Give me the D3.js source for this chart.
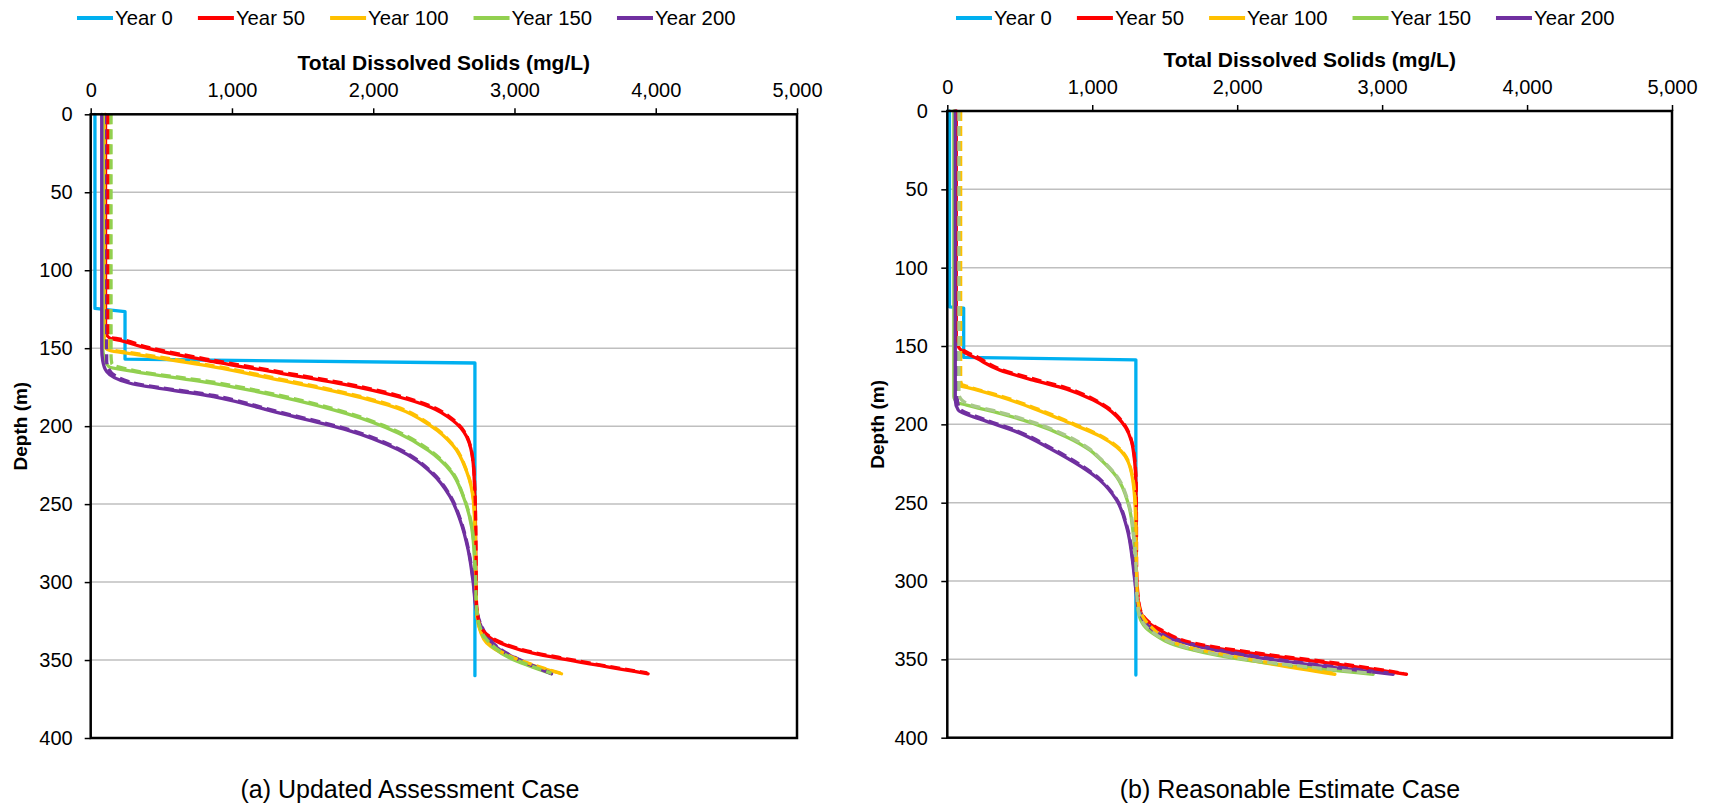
<!DOCTYPE html>
<html>
<head>
<meta charset="utf-8">
<script src="https://cdnjs.cloudflare.com/ajax/libs/d3/7.8.5/d3.min.js"></script>
<style>
  body { margin: 0; background: #fff; }
  svg text { font-family: "Liberation Sans", Arial, sans-serif; fill: #000; }
</style>
</head>
<body>
<svg id="chart" width="1718" height="807"></svg>
<script>
// Legend / series
const years = ["Year 0", "Year 50", "Year 100", "Year 150", "Year 200"];
const colors = ["#00B0F0", "#FF0000", "#FFC000", "#92D050", "#7030A0"];
const xTicks = [0, 1000, 2000, 3000, 4000, 5000];
const yTicks = [0, 50, 100, 150, 200, 250, 300, 350, 400];
const xTitle = "Total Dissolved Solids (mg/L)";
const yTitle = "Depth (m)";

// (a) Updated Assessment Case — [TDS mg/L, depth m]
const upd0 = [[30,0],[30,124.5],[243,126.5],[243,157],[2720,159.5],[2720,360]];
const upd50 = [[105,0],[105,137],[112,141],[135,143.5],[208,145],[396,150],[868,158.6],[1339,166],[1812,173.6],[2170,181],[2410,188],[2566,196.5],[2661,206.7],[2708,224],[2720,247],[2726,280],[2728,310],[2740,322],[2755,328.5],[2897,339],[3130,345.6],[3369,349.8],[3946,358.8]];
const upd100 = [[96,0],[96,146],[108,150],[135,151.5],[278,153.5],[868,162],[1339,170.5],[1812,179.5],[2170,188.5],[2410,200],[2566,212.5],[2661,229],[2708,247],[2720,268.6],[2724,300],[2735,322],[2760,332],[2802,339],[3014,349.8],[3333,358.8]];
const upd150 = [[85,0],[85,150],[100,157],[130,162],[278,164.5],[868,172.5],[1339,181],[1812,192],[2180,204.5],[2390,215.5],[2550,229],[2637,245],[2696,264.5],[2720,290],[2728,315],[2750,328],[2779,334.8],[2967,348.7],[3262,358.8]];
const upd200 = [[78,0],[78,150],[85,158],[113,165],[278,172.5],[868,181],[1339,191.7],[1812,202.4],[2175,215],[2413,230],[2543,245],[2614,260],[2672,279.4],[2708,300.6],[2730,318],[2755,326.5],[2897,343.4],[3262,358.8]];
const upd50d = [[122,0],[122,139],[140,143],[210,144.2],[400,149.3],[870,157.8],[1340,165.2],[1812,172.8],[2170,180.2],[2410,187.2],[2566,195.8],[2661,206],[2708,223.5],[2722,247],[2728,280],[2730,310],[2740,322],[2757,328],[2900,338.5],[3130,345],[3369,349.2],[3940,358.3]];
const upd100d = [[135,0],[135,149],[150,151],[280,152.8],[870,161.3],[1340,169.8],[1812,178.8],[2170,187.8],[2410,199.3],[2566,212],[2661,228.5],[2710,247],[2722,268],[2726,300],[2737,322],[2762,331.5],[2805,338.5],[3016,349.3],[3330,358.5]];
const upd150d = [[144,0],[144,155],[150,160],[280,163.8],[870,171.8],[1340,180.3],[1812,191.3],[2180,203.8],[2390,214.8],[2550,228.3],[2637,244.5],[2698,264],[2722,290],[2730,315],[2752,327.5],[2782,334.3],[2970,348.2],[3262,358.5]];
const upd200d = [[113,0],[113,158],[125,163],[280,171.8],[870,180.3],[1340,191],[1812,201.7],[2175,214.3],[2413,229.3],[2545,244.5],[2616,259.5],[2674,279],[2710,300.3],[2732,317.5],[2757,326],[2900,343],[3262,358.5]];

// (b) Reasonable Estimate Case
const est0 = [[15,0],[15,125],[113,125.8],[113,157.3],[1301,158.8],[1301,360]];
const est50 = [[62,0],[62,146],[70,149.4],[100,153],[203,157.9],[363,165.4],[593,171.8],[823,177.5],[1007,184.5],[1100,189.5],[1170,195],[1230,202],[1268,210],[1288,220],[1298,230],[1302,242],[1303,260],[1304,291],[1310,305],[1329,318.6],[1467,331.4],[1743,341],[2203,347.4],[2662,352.7],[3168,359.5]];
const est100 = [[50,0],[50,172],[70,175],[134,176.4],[363,182.4],[593,189.8],[823,198.4],[1052,207.5],[1168,214.4],[1260,227],[1294,248.5],[1301,270],[1303,291],[1310,310],[1330,320],[1398,329.3],[1628,342],[2088,350.6],[2674,359.5]];
const est150 = [[45,0],[45,182],[70,186],[134,187.7],[363,193],[593,199.4],[823,208],[984,216.5],[1052,222],[1168,233.5],[1248,250.5],[1283,269.7],[1300,291],[1304,305],[1312,316],[1340,326],[1410,333],[1650,343],[2100,351],[2938,359.5]];
const est200 = [[55,0],[55,184.5],[76,191],[248,197.3],[479,204.8],[708,215.4],[1052,235.6],[1168,248.4],[1237,265.4],[1283,291],[1300,305],[1320,318],[1421,331.4],[1743,342],[2203,349.7],[3076,359.5]];
const est50d = [[75,0],[75,147],[85,149],[110,152.5],[210,157.2],[365,164.7],[595,171],[825,176.8],[1007,183.8],[1100,188.8],[1170,194.3],[1230,201.3],[1268,209.3],[1290,219.5],[1300,230],[1304,242],[1305,260],[1306,291],[1312,305],[1331,318],[1467,330.8],[1743,340.4],[2203,346.8],[2662,352.1],[3150,359]];
const est100d = [[92,0],[92,172],[100,174.5],[140,175.8],[365,181.8],[595,189.2],[825,197.8],[1052,207],[1168,213.8],[1260,226.4],[1296,248],[1303,270],[1305,291],[1312,310],[1332,319.5],[1400,328.7],[1630,341.4],[2088,350],[2670,359]];
const est150d = [[80,0],[80,180],[95,184],[140,186.8],[365,192.3],[595,198.7],[825,207.3],[984,215.8],[1052,221.4],[1168,232.8],[1250,250],[1285,269.2],[1302,291],[1306,305],[1314,315.5],[1342,325.5],[1412,332.4],[1650,342.4],[2100,350.5],[2930,359]];
const est200d = [[68,0],[68,183],[85,190],[250,196.6],[480,204.1],[710,214.7],[1052,234.9],[1168,247.7],[1239,264.8],[1285,290.5],[1302,305],[1322,317.4],[1423,330.8],[1743,341.4],[2203,349.1],[3070,359]];

const panels = [
  {
    caption: "(a) Updated Assessment Case",
    solid: [upd0, upd50, upd100, upd150, upd200],
    dashed: [[upd200d, 4], [upd100d, 2], [upd50d, 1], [upd150d, 3]],
    dashGreen: "#92D050",
    left: 90.7, right: 797, top: 114.3, bottom: 738,
    legendX: 77, titleY: 70, tickPad: 11.3, yPad: 12,
    depthX: 20, captionX: 410
  },
  {
    caption: "(b) Reasonable Estimate Case",
    solid: [est0, est50, est100, est150, est200],
    dashed: [[est200d, 4], [est50d, 1], [est100d, 2], [est150d, 3]],
    dashGreen: "#A9C98A",
    left: 947.3, right: 1672, top: 111, bottom: 737.7,
    legendX: 956, titleY: 67, tickPad: 11, yPad: 13.5,
    depthX: 877, captionX: 1290
  }
];

const svg = d3.select("#chart");

panels.forEach(p => {
  const x = d3.scaleLinear().domain([0, 5000]).range([p.left, p.right]);
  const y = d3.scaleLinear().domain([0, 400]).range([p.top, p.bottom]);
  const g = svg.append("g");

  // Gridlines
  g.selectAll("line.grid")
    .data(yTicks.filter(t => t > 0 && t < 400)).join("line").attr("class", "grid")
    .attr("x1", p.left).attr("x2", p.right)
    .attr("y1", d => y(d)).attr("y2", d => y(d))
    .attr("stroke", "#BFBFBF").attr("stroke-width", 1.5);

  const curve = d3.line().x(d => x(d[0])).y(d => y(d[1])).curve(d3.curveMonotoneY);
  const straight = d3.line().x(d => x(d[0])).y(d => y(d[1]));

  // Solid series
  p.solid.forEach((s, i) => {
    g.append("path")
      .attr("d", i === 0 ? straight(s) : curve(s))
      .attr("fill", "none").attr("stroke", colors[i]).attr("stroke-width", 3.3)
      .attr("stroke-linejoin", "round").attr("stroke-linecap", "round");
  });

  // Dashed series
  p.dashed.forEach(([s, ci]) => {
    g.append("path")
      .attr("d", curve(s))
      .attr("fill", "none")
      .attr("stroke", ci === 3 ? p.dashGreen : colors[ci])
      .attr("stroke-width", 3.3)
      .attr("stroke-dasharray", "10,5");
  });

  // Axes
  g.append("g")
    .attr("transform", `translate(0,${p.top})`)
    .call(d3.axisTop(x).tickValues(xTicks).tickSize(6).tickPadding(p.tickPad).tickFormat(d3.format(",")))
    .call(a => a.select(".domain").remove())
    .call(a => a.selectAll("line").attr("stroke", "#000").attr("stroke-width", 1.5))
    .call(a => a.selectAll("text").attr("font-size", 20).attr("font-family", null));

  g.append("g")
    .attr("transform", `translate(${p.left},0)`)
    .call(d3.axisLeft(y).tickValues(yTicks).tickSize(6).tickPadding(p.yPad))
    .call(a => a.select(".domain").remove())
    .call(a => a.selectAll("line").attr("stroke", "#000").attr("stroke-width", 1.5))
    .call(a => a.selectAll("text").attr("font-size", 20).attr("font-family", null));

  // Plot box
  g.append("rect")
    .attr("x", p.left).attr("y", p.top)
    .attr("width", p.right - p.left).attr("height", p.bottom - p.top)
    .attr("fill", "none").attr("stroke", "#000").attr("stroke-width", 2.5);

  // Titles
  g.append("text")
    .attr("x", (p.left + p.right) / 2).attr("y", p.titleY)
    .attr("text-anchor", "middle").attr("font-size", 21).attr("font-weight", "bold")
    .text(xTitle);

  g.append("text")
    .attr("transform", `translate(${p.depthX},${(p.top + p.bottom) / 2}) rotate(-90)`)
    .attr("text-anchor", "middle").attr("dy", "0.35em")
    .attr("font-size", 19).attr("font-weight", "bold")
    .text(yTitle);

  g.append("text")
    .attr("x", p.captionX).attr("y", 798)
    .attr("text-anchor", "middle").attr("font-size", 25)
    .text(p.caption);

  // Legend
  let lx = p.legendX;
  years.forEach((name, i) => {
    g.append("line")
      .attr("x1", lx).attr("x2", lx + 36).attr("y1", 18).attr("y2", 18)
      .attr("stroke", colors[i]).attr("stroke-width", 4);
    const t = g.append("text")
      .attr("x", lx + 38).attr("y", 25).attr("font-size", 20.3)
      .text(name);
    lx += 38 + t.node().getComputedTextLength() + 25;
  });
});
</script>
</body>
</html>
